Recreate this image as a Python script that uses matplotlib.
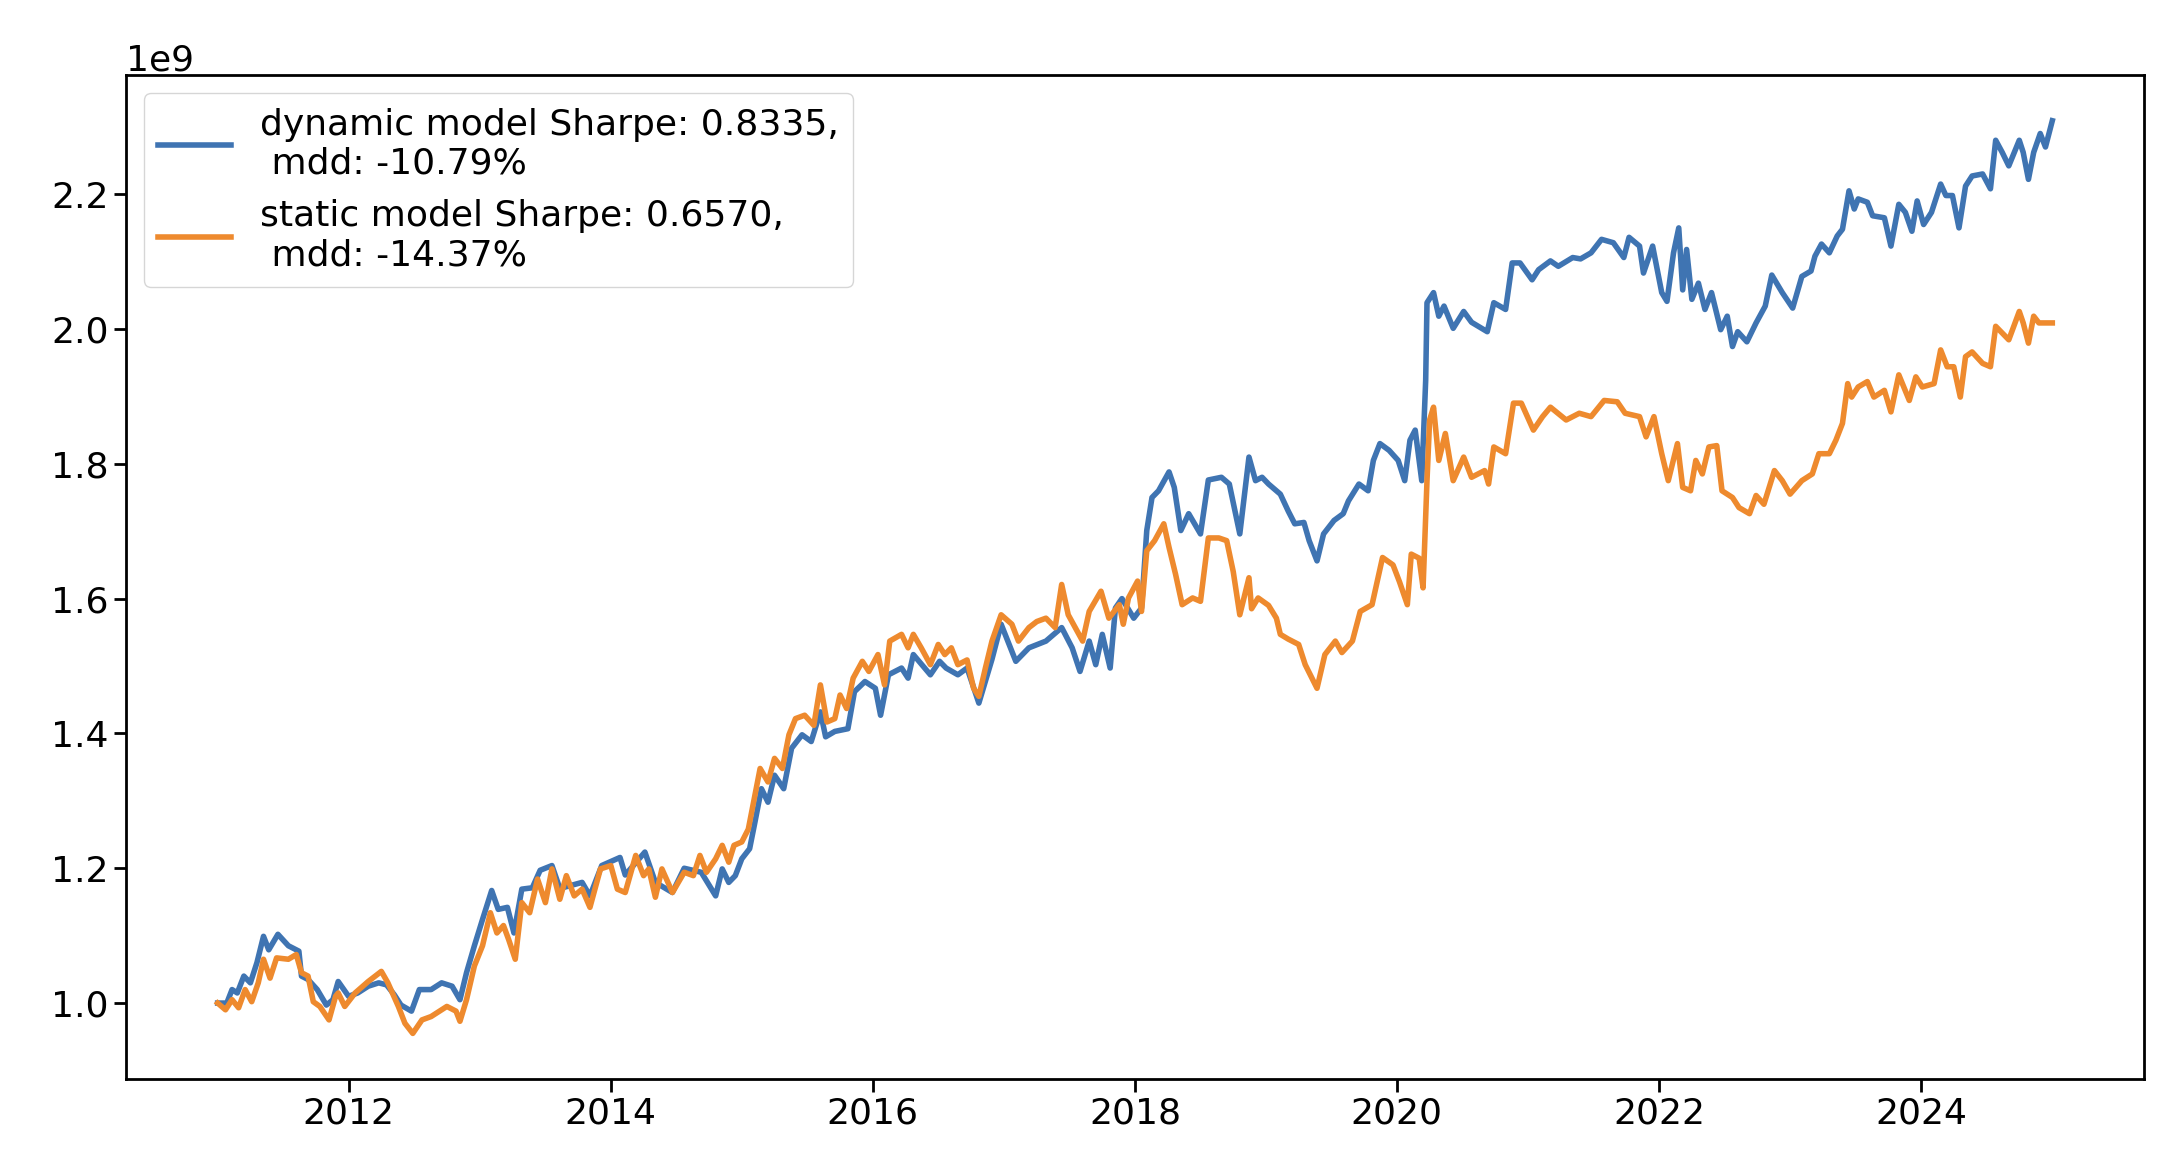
import matplotlib
matplotlib.use("Agg")
import matplotlib.pyplot as plt
import pandas as pd

# values, time in decimal years, value in units of 1e9
dyn_t = [2011.00, 2011.07, 2011.11, 2011.15, 2011.20, 2011.25, 2011.30, 2011.35, 2011.39, 2011.46,
         2011.54, 2011.62, 2011.64, 2011.69, 2011.76, 2011.83, 2011.88, 2011.92, 2012.00, 2012.07,
         2012.15, 2012.23, 2012.29, 2012.35, 2012.40, 2012.48, 2012.54, 2012.63, 2012.71, 2012.79,
         2012.85, 2012.90, 2012.96, 2013.02, 2013.09, 2013.14, 2013.21, 2013.26, 2013.32, 2013.40,
         2013.46, 2013.55, 2013.61, 2013.78, 2013.84, 2013.93, 2014.07, 2014.11, 2014.26, 2014.34,
         2014.47, 2014.56, 2014.69, 2014.80, 2014.85, 2014.90, 2014.95, 2015.00, 2015.06, 2015.10,
         2015.15, 2015.20, 2015.25, 2015.32, 2015.38, 2015.46, 2015.53, 2015.60, 2015.64, 2015.71,
         2015.81, 2015.86, 2015.94, 2016.02, 2016.06, 2016.12, 2016.22, 2016.27, 2016.31, 2016.44,
         2016.51, 2016.56, 2016.65, 2016.72, 2016.81, 2016.91, 2016.98, 2017.09, 2017.19, 2017.32,
         2017.44, 2017.52, 2017.58, 2017.65, 2017.70, 2017.75, 2017.81, 2017.85, 2017.90, 2017.99,
         2018.05, 2018.09, 2018.13, 2018.18, 2018.26, 2018.30, 2018.35, 2018.41, 2018.50, 2018.56,
         2018.66, 2018.72, 2018.80, 2018.87, 2018.92, 2018.97, 2019.02, 2019.11, 2019.17, 2019.22,
         2019.29, 2019.33, 2019.39, 2019.44, 2019.52, 2019.59, 2019.63, 2019.71, 2019.78, 2019.82,
         2019.87, 2019.94, 2020.01, 2020.06, 2020.10, 2020.14, 2020.19, 2020.22, 2020.23, 2020.28,
         2020.32, 2020.36, 2020.43, 2020.51, 2020.57, 2020.69, 2020.74, 2020.83, 2020.88, 2020.94,
         2021.03, 2021.08, 2021.17, 2021.23, 2021.34, 2021.40, 2021.48, 2021.56, 2021.65, 2021.73,
         2021.77, 2021.85, 2021.88, 2021.95, 2022.02, 2022.06, 2022.11, 2022.15, 2022.18, 2022.21,
         2022.25, 2022.30, 2022.35, 2022.40, 2022.47, 2022.52, 2022.56, 2022.60, 2022.67, 2022.74,
         2022.81, 2022.86, 2022.94, 2023.02, 2023.09, 2023.16, 2023.19, 2023.24, 2023.30, 2023.36,
         2023.40, 2023.45, 2023.49, 2023.52, 2023.59, 2023.63, 2023.72, 2023.77, 2023.83, 2023.88,
         2023.93, 2023.97, 2024.02, 2024.08, 2024.15, 2024.19, 2024.24, 2024.29, 2024.34, 2024.39,
         2024.47, 2024.53, 2024.57, 2024.62, 2024.67, 2024.75, 2024.78, 2024.82, 2024.86, 2024.91,
         2024.95, 2025.00]
dyn_v = [1.000, 1.000, 1.020, 1.015, 1.040, 1.030, 1.060, 1.099, 1.079, 1.102,
         1.085, 1.077, 1.040, 1.035, 1.020, 0.997, 1.005, 1.032, 1.010, 1.015,
         1.025, 1.030, 1.027, 1.012, 0.997, 0.988, 1.020, 1.020, 1.030, 1.025,
         1.005, 1.045, 1.085, 1.124, 1.167, 1.139, 1.142, 1.104, 1.169, 1.171,
         1.197, 1.204, 1.170, 1.179, 1.159, 1.204, 1.216, 1.190, 1.224, 1.179,
         1.164, 1.200, 1.194, 1.159, 1.199, 1.179, 1.189, 1.214, 1.229, 1.268,
         1.318, 1.298, 1.338, 1.318, 1.378, 1.398, 1.388, 1.432, 1.395, 1.403,
         1.407, 1.462, 1.477, 1.467, 1.427, 1.487, 1.497, 1.482, 1.517, 1.487,
         1.507, 1.497, 1.487, 1.497, 1.445, 1.510, 1.562, 1.507, 1.527, 1.537,
         1.557, 1.527, 1.492, 1.537, 1.502, 1.547, 1.497, 1.586, 1.600, 1.571,
         1.586, 1.701, 1.750, 1.760, 1.788, 1.765, 1.701, 1.726, 1.696, 1.776,
         1.780, 1.770, 1.696, 1.810, 1.775, 1.780, 1.770, 1.755, 1.730, 1.711,
         1.713, 1.686, 1.656, 1.696, 1.716, 1.726, 1.745, 1.770, 1.760, 1.805,
         1.830, 1.820, 1.805, 1.775, 1.835, 1.850, 1.775, 1.924, 2.039, 2.054,
         2.019, 2.034, 2.001, 2.026, 2.010, 1.996, 2.039, 2.029, 2.098, 2.098,
         2.073, 2.088, 2.101, 2.093, 2.106, 2.104, 2.113, 2.133, 2.128, 2.106,
         2.136, 2.123, 2.083, 2.123, 2.054, 2.041, 2.113, 2.150, 2.058, 2.118,
         2.044, 2.068, 2.029, 2.054, 1.999, 2.019, 1.974, 1.996, 1.981, 2.009,
         2.034, 2.080, 2.054, 2.031, 2.078, 2.086, 2.108, 2.126, 2.113, 2.138,
         2.148, 2.205, 2.178, 2.193, 2.188, 2.168, 2.165, 2.123, 2.185, 2.173,
         2.145, 2.190, 2.155, 2.173, 2.215, 2.198, 2.198, 2.150, 2.212, 2.227,
         2.230, 2.208, 2.280, 2.262, 2.242, 2.280, 2.262, 2.222, 2.262, 2.290,
         2.270, 2.309]

sta_t = [2011.00, 2011.06, 2011.11, 2011.16, 2011.21, 2011.26, 2011.31, 2011.35, 2011.40, 2011.45,
         2011.54, 2011.60, 2011.64, 2011.69, 2011.73, 2011.78, 2011.85, 2011.90, 2011.92, 2011.97,
         2012.05, 2012.15, 2012.25, 2012.30, 2012.38, 2012.43, 2012.49, 2012.56, 2012.63, 2012.75,
         2012.82, 2012.85, 2012.90, 2012.96, 2013.02, 2013.08, 2013.13, 2013.18, 2013.22, 2013.27,
         2013.32, 2013.38, 2013.44, 2013.50, 2013.55, 2013.61, 2013.66, 2013.72, 2013.78, 2013.84,
         2013.92, 2014.00, 2014.05, 2014.11, 2014.19, 2014.25, 2014.29, 2014.34, 2014.39, 2014.47,
         2014.56, 2014.63, 2014.68, 2014.73, 2014.80, 2014.85, 2014.90, 2014.94, 2015.00, 2015.05,
         2015.09, 2015.14, 2015.20, 2015.25, 2015.31, 2015.36, 2015.41, 2015.48, 2015.55, 2015.60,
         2015.65, 2015.71, 2015.75, 2015.80, 2015.85, 2015.92, 2015.97, 2016.04, 2016.09, 2016.13,
         2016.22, 2016.27, 2016.31, 2016.37, 2016.44, 2016.50, 2016.55, 2016.60, 2016.65, 2016.72,
         2016.77, 2016.81, 2016.86, 2016.91, 2016.98, 2017.06, 2017.11, 2017.19, 2017.25, 2017.32,
         2017.39, 2017.44, 2017.49, 2017.60, 2017.65, 2017.74, 2017.80, 2017.88, 2017.91, 2017.95,
         2018.02, 2018.05, 2018.09, 2018.15, 2018.22, 2018.26, 2018.31, 2018.36, 2018.44, 2018.50,
         2018.56, 2018.64, 2018.70, 2018.75, 2018.80, 2018.87, 2018.89, 2018.94, 2019.02, 2019.08,
         2019.11, 2019.17, 2019.25, 2019.30, 2019.39, 2019.45, 2019.53, 2019.58, 2019.66, 2019.72,
         2019.81, 2019.89, 2019.97, 2020.02, 2020.08, 2020.11, 2020.17, 2020.20, 2020.23, 2020.25,
         2020.28, 2020.32, 2020.37, 2020.43, 2020.51, 2020.57, 2020.67, 2020.70, 2020.74, 2020.83,
         2020.89, 2020.95, 2021.04, 2021.11, 2021.17, 2021.29, 2021.39, 2021.48, 2021.58, 2021.68,
         2021.74, 2021.85, 2021.90, 2021.96, 2022.02, 2022.07, 2022.14, 2022.18, 2022.24, 2022.28,
         2022.33, 2022.38, 2022.44, 2022.48, 2022.56, 2022.61, 2022.69, 2022.74, 2022.80, 2022.88,
         2022.94, 2023.00, 2023.09, 2023.17, 2023.22, 2023.30, 2023.35, 2023.40, 2023.44, 2023.47,
         2023.52, 2023.59, 2023.64, 2023.72, 2023.77, 2023.83, 2023.91, 2023.96, 2024.01, 2024.10,
         2024.15, 2024.20, 2024.25, 2024.30, 2024.34, 2024.39, 2024.47, 2024.53, 2024.57, 2024.62,
         2024.67, 2024.75, 2024.78, 2024.82, 2024.86, 2024.90, 2025.00]
sta_v = [1.000, 0.990, 1.005, 0.993, 1.020, 1.002, 1.030, 1.065, 1.037, 1.067,
         1.065, 1.072, 1.045, 1.040, 1.002, 0.995, 0.975, 1.010, 1.015, 0.995,
         1.015, 1.032, 1.047, 1.030, 0.995, 0.970, 0.955, 0.975, 0.980, 0.995,
         0.988, 0.973, 1.005, 1.055, 1.085, 1.134, 1.104, 1.115, 1.094, 1.065,
         1.149, 1.134, 1.184, 1.149, 1.199, 1.154, 1.189, 1.159, 1.169, 1.142,
         1.199, 1.204, 1.169, 1.164, 1.219, 1.189, 1.199, 1.157, 1.199, 1.164,
         1.194, 1.189, 1.219, 1.194, 1.214, 1.234, 1.209, 1.234, 1.239, 1.258,
         1.298, 1.348, 1.328, 1.363, 1.348, 1.398, 1.422, 1.427, 1.412, 1.472,
         1.417, 1.422, 1.457, 1.437, 1.482, 1.507, 1.492, 1.517, 1.472, 1.537,
         1.547, 1.527, 1.547, 1.527, 1.502, 1.532, 1.517, 1.527, 1.502, 1.509,
         1.467, 1.455, 1.497, 1.537, 1.576, 1.562, 1.537, 1.557, 1.566, 1.571,
         1.557, 1.621, 1.576, 1.537, 1.581, 1.611, 1.571, 1.591, 1.562, 1.601,
         1.626, 1.581, 1.671, 1.686, 1.711, 1.676, 1.636, 1.591, 1.601, 1.596,
         1.690, 1.690, 1.686, 1.640, 1.576, 1.631, 1.585, 1.601, 1.590, 1.571,
         1.547, 1.540, 1.532, 1.502, 1.467, 1.517, 1.537, 1.520, 1.537, 1.581,
         1.591, 1.661, 1.650, 1.625, 1.591, 1.666, 1.660, 1.616, 1.775, 1.865,
         1.884, 1.805, 1.845, 1.775, 1.810, 1.780, 1.790, 1.770, 1.825, 1.815,
         1.890, 1.890, 1.850, 1.870, 1.884, 1.865, 1.875, 1.870, 1.894, 1.892,
         1.875, 1.870, 1.840, 1.870, 1.815, 1.775, 1.830, 1.765, 1.760, 1.805,
         1.785, 1.825, 1.827, 1.760, 1.750, 1.735, 1.726, 1.753, 1.740, 1.790,
         1.775, 1.755, 1.775, 1.785, 1.815, 1.815, 1.835, 1.860, 1.919, 1.899,
         1.914, 1.922, 1.899, 1.909, 1.877, 1.932, 1.894, 1.929, 1.914, 1.919,
         1.969, 1.944, 1.944, 1.899, 1.959, 1.966, 1.949, 1.944, 2.004, 1.994,
         1.984, 2.026, 2.009, 1.979, 2.019, 2.009, 2.009]

labels = ["dynamic model Sharpe: 0.8335,\n mdd: -10.79%",
          "static model Sharpe: 0.6570,\n mdd: -14.37%"]


def to_dates(years):
    out = []
    for y in years:
        yr = int(y)
        out.append(pd.Timestamp(yr, 1, 1) + pd.Timedelta(days=(y - yr) * 365.25))
    return out


plt.rcParams['font.family'] = 'DejaVu Sans'
plt.rcParams['font.size'] = 26

fig = plt.figure(figsize=(21.67, 11.64), dpi=100)
ax = fig.add_axes([0.0581, 0.0730, 0.9313, 0.8625])

ax.plot(to_dates(dyn_t), [v * 1e9 for v in dyn_v], c='#3f74b2', lw=4, label=labels[0])
ax.plot(to_dates(sta_t), [v * 1e9 for v in sta_v], c='#ee8a2e', lw=4, label=labels[1])

for s in ax.spines.values():
    s.set_linewidth(2)
ax.tick_params(width=2, length=9, labelsize=26)
ax.yaxis.get_offset_text().set_fontsize(26)

ax.legend(loc='upper left', fontsize=26)

fig.savefig("out.png", dpi=100)
